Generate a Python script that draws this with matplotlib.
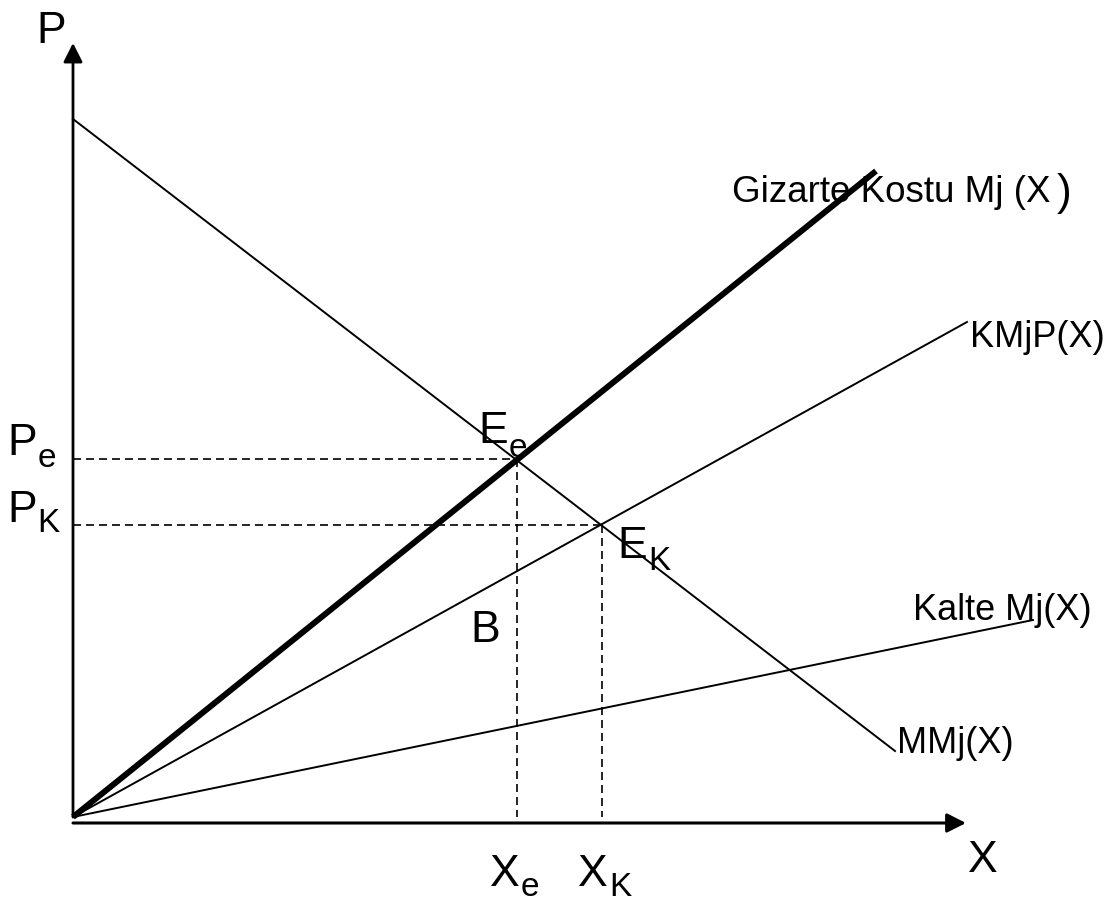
import matplotlib.pyplot as plt

plt.rcParams['font.family'] = ['Liberation Sans', 'DejaVu Sans']

# curves (x, y), origin at the axis corner
demand_x = [0, 822]
demand_y = [698, 66]
social_x = [0, 803]
social_y = [0, 646]
private_x = [0, 894]
private_y = [0, 495]
external_x = [0, 960]
external_y = [0, 197]

# equilibrium points
Ee = (444, 358)
EK = (529, 292)

fig = plt.figure(figsize=(11.08, 9.03), dpi=100)
ax = fig.add_axes([0, 0, 1, 1])
ax.set_xlim(-73, 1035)
ax.set_ylim(-85, 818)
ax.axis('off')

# axes with arrows
ax.annotate('', xy=(0, 774), xytext=(0, 0),
            arrowprops=dict(arrowstyle='-|>,head_length=1.15,head_width=0.58',
                            lw=2, color='black', shrinkA=0, shrinkB=0))
ax.annotate('', xy=(893, -6), xytext=(0, -6),
            arrowprops=dict(arrowstyle='-|>,head_length=1.15,head_width=0.58',
                            lw=2.2, color='black', shrinkA=0, shrinkB=0))

# curves
ax.plot(demand_x, demand_y, color='black', lw=1.4)
ax.plot(social_x, social_y, color='black', lw=4.3, solid_capstyle='butt')
ax.plot(private_x, private_y, color='black', lw=1.4)
ax.plot(external_x, external_y, color='black', lw=1.4)

# dashed guides
for px, py in (Ee, EK):
    ax.plot([0, px], [py, py], color='black', lw=1.2, dashes=(4.8, 3))
    ax.plot([px, px], [py, 0], color='black', lw=1.2, dashes=(4.8, 3))

big = 32
sub = 24
cur = 26

ax.text(-37, 775, 'P', fontsize=big)
ax.text(895, -54, 'X', fontsize=big)

ax.text(-66, 363, 'P', fontsize=big)
ax.text(-35, 351, 'e', fontsize=sub)
ax.text(-66, 296, 'P', fontsize=big)
ax.text(-36, 286, 'K', fontsize=sub)

ax.text(405, 375, 'E', fontsize=big)
ax.text(436, 361, 'e', fontsize=sub)
ax.text(544, 260, 'E', fontsize=big)
ax.text(575, 248, 'K', fontsize=sub)

ax.text(397, 176, 'B', fontsize=big)

ax.text(417, -68, 'X', fontsize=big)
ax.text(448, -78, 'e', fontsize=sub)
ax.text(505, -68, 'X', fontsize=big)
ax.text(536, -78, 'K', fontsize=sub)

ax.text(659, 616, 'Gizarte Kostu Mj (X', fontsize=26.5)
ax.text(984, 613, ')', fontsize=32)
ax.text(897, 471, 'KMjP(X)', fontsize=cur)
ax.text(840, 198, 'Kalte Mj(X)', fontsize=cur)
ax.text(824, 65, 'MMj(X)', fontsize=cur)

fig.savefig('out.png', dpi=100)
